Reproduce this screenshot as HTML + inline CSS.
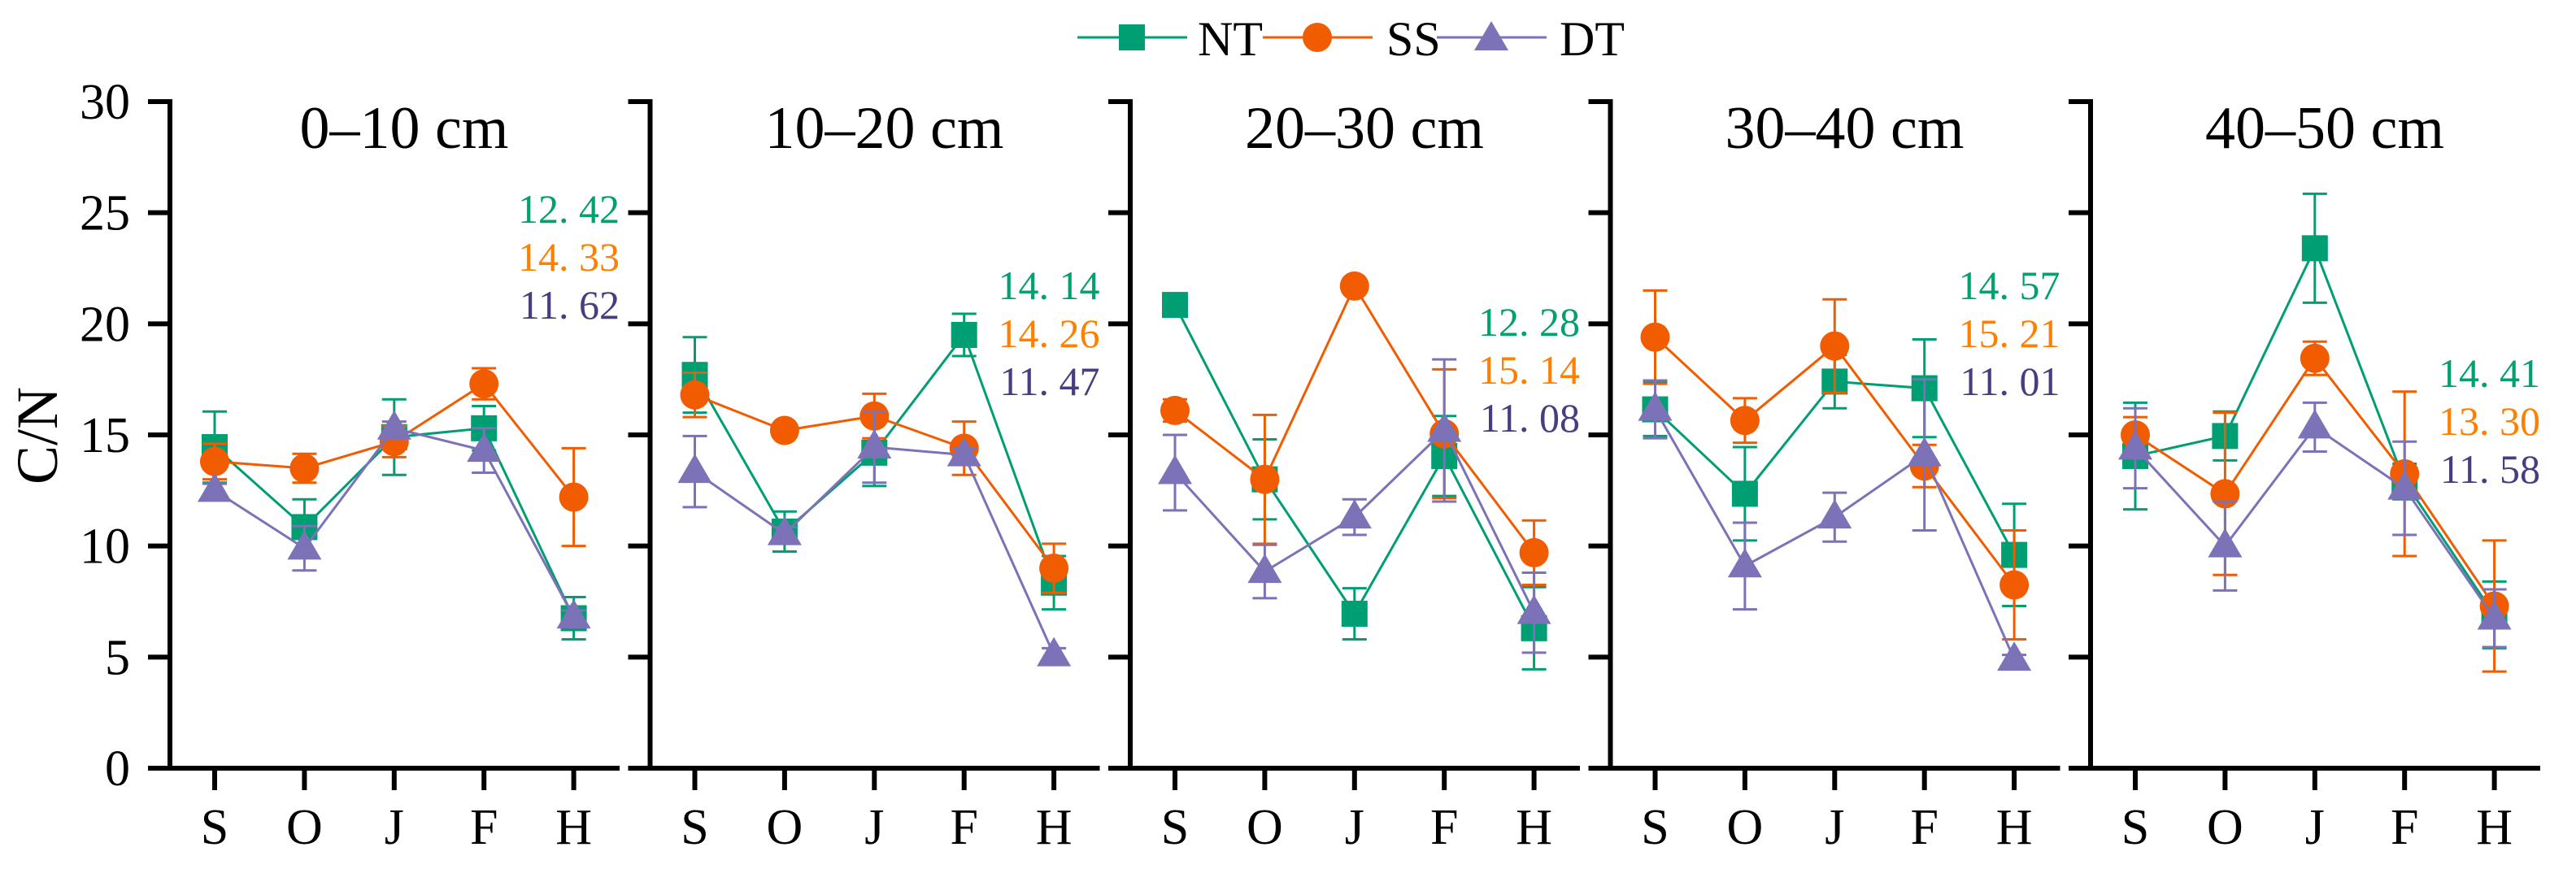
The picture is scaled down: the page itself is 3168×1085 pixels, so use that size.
<!DOCTYPE html>
<html><head><meta charset="utf-8"><style>
html,body{margin:0;padding:0;background:#fff;}
svg{display:block;}
text{font-family:"Liberation Serif",serif;}
</style></head><body>
<svg id="chart" width="3168" height="1085" viewBox="0 0 3168 1085" xmlns="http://www.w3.org/2000/svg">
<g id="legend">
  <g>
    <line x1="1325" y1="46" x2="1460" y2="46" stroke="#009e73" stroke-width="3"/>
    <rect x="1376" y="30" width="32" height="32" fill="#009e73"/>
    <text x="1473" y="68" font-size="60">NT</text>
  </g>
  <g>
    <line x1="1553" y1="46" x2="1688" y2="46" stroke="#f25c00" stroke-width="3"/>
    <circle cx="1620" cy="46" r="18" fill="#f25c00"/>
    <text x="1705" y="68" font-size="60">SS</text>
  </g>
  <g>
    <line x1="1767" y1="46" x2="1902" y2="46" stroke="#7b72b8" stroke-width="3"/>
    <polygon points="1834,26 1855,62 1813,62" fill="#7b72b8"/>
    <text x="1918" y="68" font-size="60">DT</text>
  </g>
</g>
<text x="0" y="0" font-size="72" text-anchor="middle" transform="translate(70,536) rotate(-90)">C/N</text>
<g id="panels"></g>
</svg>
<script>
const categories = ["S","O","J","F","H"];
const panelTitles = ["0–10 cm","10–20 cm","20–30 cm","30–40 cm","40–50 cm"];
const yTicks = [0,5,10,15,20,25,30];
const ntValues = [[14.45,10.85,14.9,15.3,6.75],[17.7,10.65,14.2,19.5,8.35],[20.85,13.0,6.95,14.05,6.3],[16.15,12.35,17.4,17.1,9.6],[14.05,14.95,23.4,12.9,6.9]];
const ntErrors = [[1.6,1.25,1.7,1.0,0.95],[1.7,0.9,1.5,0.95,1.2],[0.2,1.8,1.15,1.8,1.85],[1.2,2.1,1.2,2.2,2.3],[2.4,1.1,2.45,0.8,1.5]];
const ssValues = [[13.8,13.5,14.7,17.3,12.2],[16.8,15.2,15.85,14.4,9.0],[16.1,13.0,21.7,15.05,9.7],[19.4,15.65,19.0,13.6,8.25],[15.0,12.35,18.45,13.25,7.3]];
const ssErrors = [[0.8,0.65,0.7,0.7,2.2],[1.0,0.2,1.0,1.2,1.1],[0.5,2.9,0.3,2.9,1.45],[2.1,1.0,2.1,0.95,2.45],[0.8,3.65,0.75,3.7,2.95]];
const dtValues = [[12.5,9.9,15.3,14.3,6.8],[13.35,10.55,14.45,14.1,5.1],[13.3,8.85,11.3,15.2,7.0],[16.15,9.1,11.3,14.1,4.9],[14.4,10.0,15.35,12.6,6.75]];
const dtErrors = [[0.3,1.0,0.3,1.0,0.3],[1.6,0.3,1.6,0.3,0.3],[1.7,1.2,0.8,3.2,1.8],[1.3,1.95,1.1,3.4,0.2],[1.8,2.0,1.1,2.1,1.3]];
const ntLabels = ["12. 42","14. 14","12. 28","14. 57","14. 41"];
const ssLabels = ["14. 33","14. 26","15. 14","15. 21","13. 30"];
const dtLabels = ["11. 62","11. 47","11. 08","11. 01","11. 58"];
const labelBaseY = [274,368,413,368,476];

const NS = "http://www.w3.org/2000/svg";
const Y0 = 945, Y30 = 125;
function yScale(v){ return Y0 - (v/30)*(Y0-Y30); }
function axisX(p){ return 209 + p*590.5; }
function xScale(p,i){ return axisX(p) + 55 + i*110.4; }
function mk(tag, attrs, parent){
  const e = document.createElementNS(NS, tag);
  for (const k in attrs) e.setAttribute(k, attrs[k]);
  parent.appendChild(e);
  return e;
}
const root = document.getElementById('panels');
const series = [
  {key:'nt', vals:ntValues, errs:ntErrors, color:'#009e73', labels:ntLabels, lc:'#00a070'},
  {key:'ss', vals:ssValues, errs:ssErrors, color:'#f25c00', labels:ssLabels, lc:'#ff8000'},
  {key:'dt', vals:dtValues, errs:dtErrors, color:'#7b72b8', labels:dtLabels, lc:'#463e80'}
];
for (let p=0; p<5; p++){
  const g = mk('g', {}, root);
  
  
  const ax = axisX(p);
  const yl = mk('line', {x1:ax, y1:Y30-3, x2:ax, y2:Y0+3, stroke:'#000','stroke-width':6}, g);
  
  
  const xl = mk('line', {x1:ax-27, y1:Y0, x2:ax+553, y2:Y0, stroke:'#000','stroke-width':6}, g);
  
  
  for (const t of yTicks){
    const tl = mk('line', {x1:ax-27, y1:yScale(t), x2:ax, y2:yScale(t), stroke:'#000','stroke-width':6}, g);
    
    
    if (p===0){
      const tt = mk('text', {x:160, y:yScale(t)+21, 'font-size':62, 'text-anchor':'end'}, g);
      tt.textContent = t;
      
      
    }
  }
  categories.forEach((c,i)=>{
    const x = xScale(p,i);
    const tk = mk('line', {x1:x, y1:Y0, x2:x, y2:972, stroke:'#000','stroke-width':6}, g);
    
    
    const tx = mk('text', {x:x, y:1038, 'font-size':62, 'text-anchor':'middle'}, g);
    tx.textContent = c;
    
    
  });
  const title = mk('text', {x:ax+288, y:182, 'font-size':74, 'text-anchor':'middle'}, g);
  title.textContent = panelTitles[p];
  
  
  series.forEach((s,si)=>{
    const sg = mk('g', {}, g);
    
    
    const pts = s.vals[p].map((v,i)=>xScale(p,i)+','+yScale(v)).join(' ');
    const pl = mk('polyline', {points:pts, fill:'none', stroke:s.color, 'stroke-width':3}, sg);
    
    
    s.vals[p].forEach((v,i)=>{
      const x = xScale(p,i), e = s.errs[p][i];
      const yt = yScale(v+e), yb = yScale(v-e);
      const eb = mk('path', {d:`M${x},${yt}V${yb}M${x-15},${yt}H${x+15}M${x-15},${yb}H${x+15}`, stroke:s.color, 'stroke-width':3, fill:'none'}, sg);
      
      
    });
    s.vals[p].forEach((v,i)=>{
      const x = xScale(p,i), y = yScale(v);
      let m;
      if (s.key==='nt') m = mk('rect', {x:x-16, y:y-16, width:32, height:32, fill:s.color}, sg);
      else if (s.key==='ss') m = mk('circle', {cx:x, cy:y, r:18, fill:s.color}, sg);
      else m = mk('polygon', {points:`${x},${y-22} ${x+21},${y+14} ${x-21},${y+14}`, fill:s.color}, sg);
      
      
    });
    const lb = mk('text', {x:ax+553, y:labelBaseY[p]+si*59, 'font-size':50, 'text-anchor':'end', fill:s.lc}, g);
    lb.textContent = s.labels[p];
    
    
  });
}
</script>
</body></html>
